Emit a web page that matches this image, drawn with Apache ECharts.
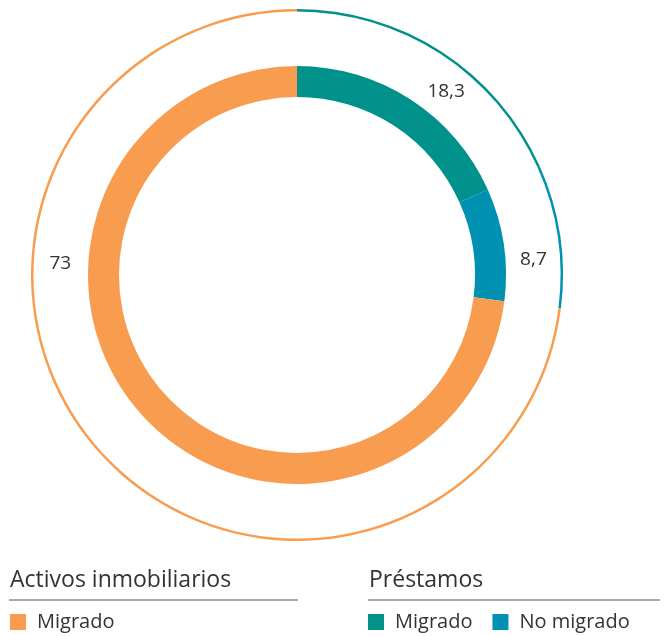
<!DOCTYPE html>
<html>
<head>
<meta charset="utf-8">
<script src="https://cdn.jsdelivr.net/npm/echarts@6/dist/echarts.min.js"></script>
<style>
  html, body { margin: 0; padding: 0; background: #fff; }
  #chart { width: 668px; height: 636px; }
</style>
</head>
<body>
<div id="chart"></div>
<script>
// grupos y valores (%), en orden horario desde las 12
const groups = ['Préstamos', 'Préstamos', 'Activos inmobiliarios']
const categories = ['Migrado', 'No migrado', 'Migrado']
const values = [18.3, 8.7, 73]
const colors = ['#00918A', '#0090B1', '#F89D50']

// angulo (grados desde las 12, sentido horario) donde va cada etiqueta
const labelAngles = [39, 86, 273]

const center = [297, 275]
const labelRadius = 237
const textColor = '#333333'
const fontFamily = '"Open Sans", "Noto Sans", sans-serif'

const chart = echarts.init(document.getElementById('chart'))

const pieData = values.map((v, i) => ({
  name: groups[i] + '|' + categories[i],
  value: v,
  itemStyle: { color: colors[i] }
}))

const fmt = v => String(v).replace('.', ',')

const labelTexts = values.map((v, i) => {
  const a = labelAngles[i] * Math.PI / 180
  return {
    type: 'text',
    x: center[0] + labelRadius * Math.sin(a),
    y: center[1] - labelRadius * Math.cos(a) + 1,
    style: {
      text: fmt(v),
      fill: textColor,
      font: '19px ' + fontFamily,
      align: 'center',
      verticalAlign: 'middle'
    }
  }
})

const heading = (text, x1, x2) => [
  {
    type: 'text',
    x: x1 + 1,
    y: 580,
    style: { text, fill: textColor, font: '23px ' + fontFamily, verticalAlign: 'middle' }
  },
  {
    type: 'line',
    shape: { x1, y1: 600, x2, y2: 600 },
    style: { stroke: '#555', lineWidth: 1 }
  }
]

const legendBase = {
  icon: 'rect',
  itemWidth: 16,
  itemHeight: 16,
  itemGap: 20,
  top: 607,
  selectedMode: false,
  formatter: name => name.split('|')[1],
  textStyle: { color: textColor, fontSize: 20, fontFamily: 'Open Sans', padding: [0, 0, 0, 6] }
}

chart.setOption({
  animation: false,
  legend: [
    { ...legendBase, left: 5, data: [pieData[2].name] },
    { ...legendBase, left: 363, data: [pieData[0].name, pieData[1].name] }
  ],
  graphic: [
    ...labelTexts,
    ...heading('Activos inmobiliarios', 9, 298),
    ...heading('Préstamos', 368, 660)
  ],
  series: [
    {
      type: 'pie',
      center,
      radius: [178, 209],
      startAngle: 90,
      label: { show: false },
      labelLine: { show: false },
      emphasis: { disabled: true },
      data: pieData
    },
    {
      type: 'pie',
      center,
      radius: [263.5, 266],
      startAngle: 90,
      label: { show: false },
      labelLine: { show: false },
      emphasis: { disabled: true },
      data: pieData
    }
  ]
})
</script>
</body>
</html>
